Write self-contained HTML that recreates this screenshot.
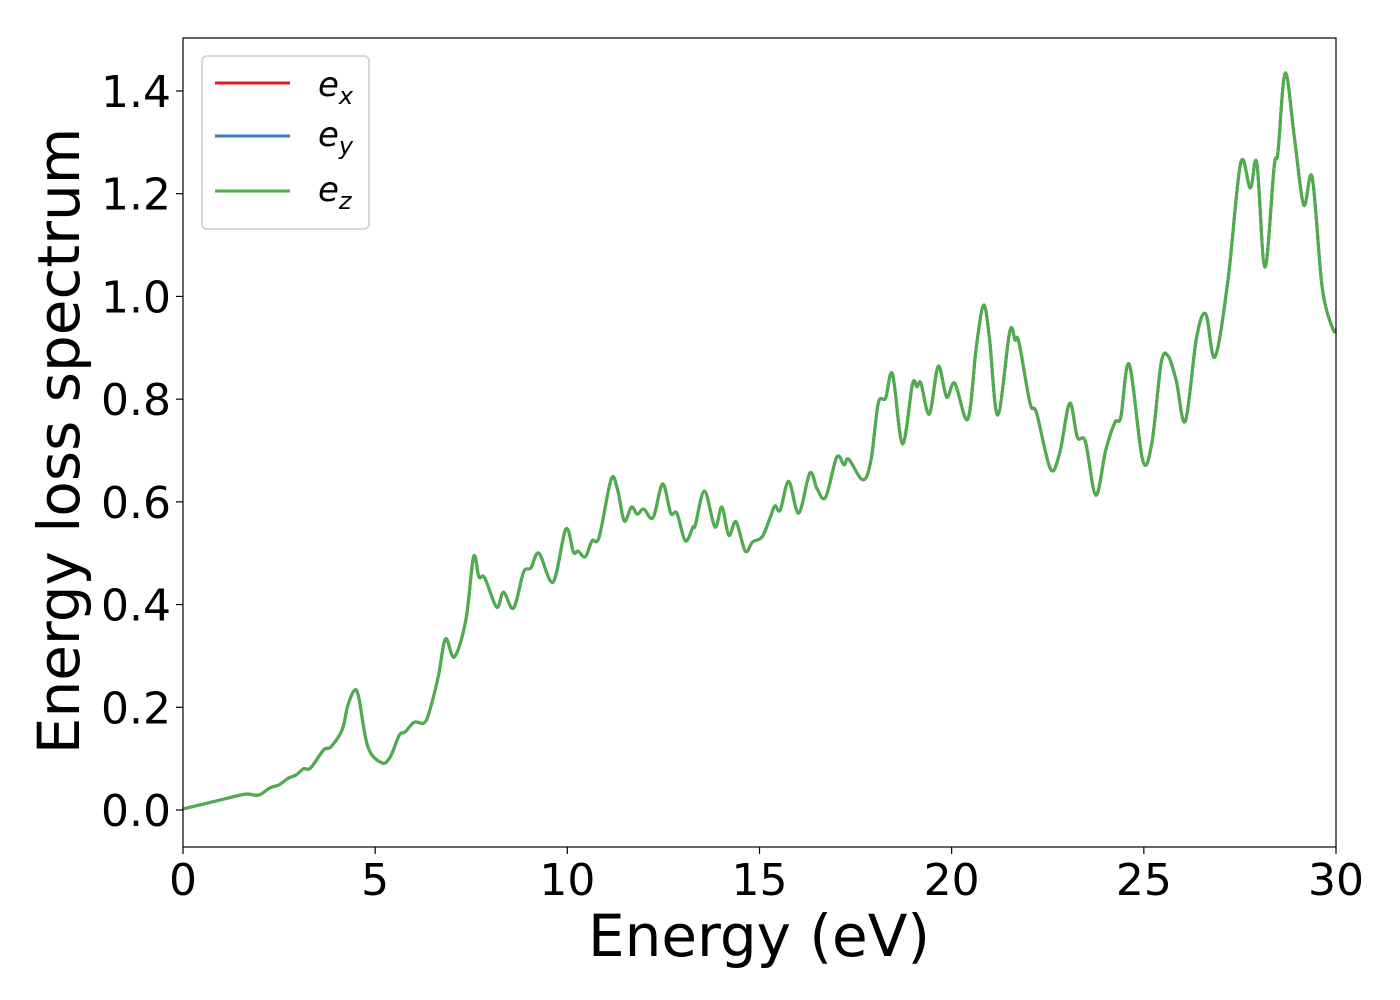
<!DOCTYPE html>
<html><head><meta charset="utf-8"><style>
html,body{margin:0;padding:0;background:#fff;}
svg{display:block;font-family:"DejaVu Sans","Liberation Sans",sans-serif;}
</style></head><body>
<svg id="chart" width="1400" height="1000">
<rect x="0" y="0" width="1400" height="1000" fill="#fff"/>
<g id="plot"></g>
<g id="axes"></g>
<text x="759" y="956" font-size="58" text-anchor="middle">Energy (eV)</text>
<text transform="translate(79,441) rotate(-90)" font-size="58" text-anchor="middle">Energy loss spectrum</text>
<g>
<rect x="202" y="56" width="167" height="173" rx="5" fill="#fff" stroke="#ccc" stroke-width="1.5"/>
<g><line x1="215" y1="83" x2="290" y2="83" stroke="#e41a1c" stroke-width="3"/><text x="318" y="96" font-size="34" font-style="italic">e<tspan font-size="24" dy="8">x</tspan></text></g>
<g><line x1="215" y1="136" x2="290" y2="136" stroke="#377eb8" stroke-width="3"/><text x="318" y="146" font-size="34" font-style="italic">e<tspan font-size="24" dy="8">y</tspan></text></g>
<g><line x1="215" y1="191" x2="290" y2="191" stroke="#4daf4a" stroke-width="3"/><text x="318" y="201" font-size="34" font-style="italic">e<tspan font-size="24" dy="8">z</tspan></text></g>
</g>
</svg>
<script>
const energy = [0,1.16,1.64,1.97,2.26,2.50,2.74,2.94,3.13,3.32,3.66,3.85,4.14,4.28,4.45,4.57,4.81,5.17,5.39,5.63,5.78,6.02,6.26,6.40,6.64,6.83,7.06,7.36,7.56,7.70,7.85,8.16,8.34,8.60,8.86,9.05,9.26,9.63,9.96,10.16,10.28,10.47,10.64,10.83,11.14,11.31,11.48,11.67,11.82,11.99,12.23,12.48,12.69,12.85,13.07,13.27,13.33,13.57,13.84,14.02,14.20,14.39,14.63,14.82,15.07,
15.28,15.40,15.54,15.76,16.02,16.31,16.50,16.72,17.01,17.20,17.32,17.69,17.90,18.09,18.28,18.46,18.72,18.98,19.10,19.20,19.42,19.65,19.87,20.08,20.42,20.64,20.83,20.98,21.20,21.51,21.65,21.75,22.04,22.21,22.57,22.81,23.07,23.27,23.48,23.75,24.01,24.25,24.40,24.62,24.97,25.21,25.45,25.63,25.84,26.08,26.37,26.61,26.85,27.19,27.52,27.77,27.94,28.15,28.39,28.49,28.68,28.92,29.16,29.38,29.64,29.91,30.0];
const lossZ = [0.002,0.023,0.031,0.029,0.043,0.049,0.062,0.068,0.080,0.082,0.117,0.123,0.156,0.201,0.232,0.220,0.123,0.092,0.103,0.146,0.152,0.171,0.169,0.189,0.259,0.333,0.298,0.370,0.493,0.454,0.452,0.395,0.424,0.393,0.463,0.471,0.500,0.444,0.547,0.502,0.504,0.493,0.524,0.532,0.644,0.623,0.563,0.590,0.576,0.586,0.569,0.635,0.578,0.578,0.524,0.551,0.555,0.621,0.551,0.590,0.535,0.561,0.504,0.522,0.532,
0.570,0.592,0.584,0.640,0.578,0.656,0.625,0.609,0.687,0.672,0.683,0.643,0.681,0.792,0.802,0.849,0.713,0.829,0.824,0.831,0.771,0.864,0.804,0.831,0.761,0.901,0.983,0.921,0.769,0.931,0.915,0.911,0.792,0.773,0.664,0.695,0.792,0.726,0.717,0.613,0.701,0.755,0.765,0.868,0.681,0.715,0.870,0.884,0.837,0.757,0.919,0.966,0.882,1.032,1.260,1.211,1.260,1.057,1.252,1.281,1.435,1.308,1.178,1.232,1.018,0.938,0.935];
const lossX = lossZ.slice();
const lossY = lossZ.slice();
const xTicks = [0,5,10,15,20,25,30];
const yTicks = [0.0,0.2,0.4,0.6,0.8,1.0,1.2,1.4];
const yTickLabels = ["0.0","0.2","0.4","0.6","0.8","1.0","1.2","1.4"];

const X0=183,X1=1336,Y0=38,Y1=847;
const xs = v => X0 + (v-0)/(30-0)*(X1-X0);
const ys = v => 810 - v*(810-91)/1.4;
const NS="http://www.w3.org/2000/svg";
const plot=document.getElementById('plot'), axes=document.getElementById('axes');
function mk(t,a,p){const e=document.createElementNS(NS,t);for(const k in a)e.setAttribute(k,a[k]);p.appendChild(e);return e;}
function pathFor(xa,ya){
  const P=xa.map((x,i)=>[xs(x),ys(ya[i])]);
  let d=`M${P[0][0]},${P[0][1]}`;
  for(let i=0;i<P.length-1;i++){
    const p0=P[Math.max(0,i-1)],p1=P[i],p2=P[i+1],p3=P[Math.min(P.length-1,i+2)];
    const c1=[p1[0]+(p2[0]-p0[0])/6,p1[1]+(p2[1]-p0[1])/6];
    const c2=[p2[0]-(p3[0]-p1[0])/6,p2[1]-(p3[1]-p1[1])/6];
    d+=` C${c1[0]},${c1[1]} ${c2[0]},${c2[1]} ${p2[0]},${p2[1]}`;
  }
  return d;
}
const series=[[lossX,'#e41a1c','series-ex'],[lossY,'#377eb8','series-ey'],[lossZ,'#4daf4a','series-ez']];
series.forEach(s=>{
  const p=mk('path',{d:pathFor(energy,s[0]),fill:'none',stroke:s[1],'stroke-width':3,'stroke-linejoin':'round'},plot);
  
  
});
const frame=mk('rect',{x:X0,y:Y0,width:X1-X0,height:Y1-Y0,fill:'none',stroke:'#000','stroke-width':1.2},axes);


xTicks.forEach(t=>{
  mk('line',{x1:xs(t),x2:xs(t),y1:Y1,y2:Y1+7,stroke:'#000','stroke-width':1.2},axes);
  const tx=mk('text',{x:xs(t),y:895,'font-size':44,'text-anchor':'middle'},axes);
  tx.textContent=String(t);
  
  
});
yTicks.forEach((t,i)=>{
  mk('line',{x1:X0-7,x2:X0,y1:ys(t),y2:ys(t),stroke:'#000','stroke-width':1.2},axes);
  const tx=mk('text',{x:171,y:ys(t)+16,'font-size':44,'text-anchor':'end'},axes);
  tx.textContent=yTickLabels[i];
  
  
});
</script>
</body></html>
